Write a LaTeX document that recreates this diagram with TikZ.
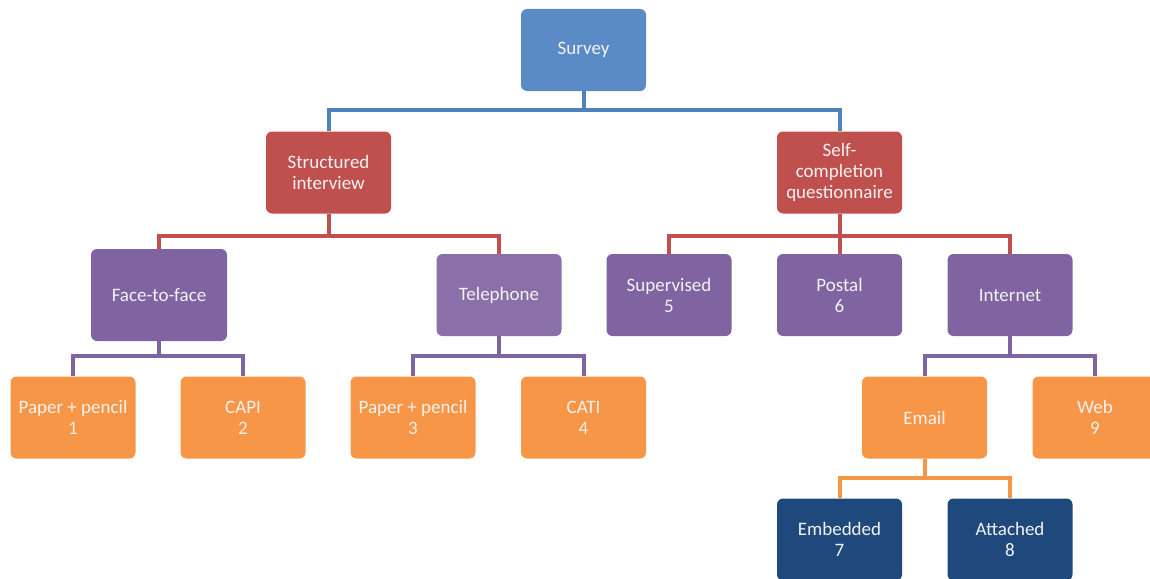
\documentclass[tikz,border=0pt]{standalone}
\usepackage{fontspec}
\setmainfont{Carlito}
\definecolor{surveyblue}{HTML}{5B8BC6}
\definecolor{linkblue}{HTML}{4F81BD}
\definecolor{boxred}{HTML}{C0504D}
\definecolor{boxpurple}{HTML}{8064A2}
\definecolor{lightpurple}{HTML}{8B6FA8}
\definecolor{boxorange}{HTML}{F79646}
\definecolor{boxnavy}{HTML}{1F497D}
\begin{document}
\begin{tikzpicture}[x=1pt, y=-1pt,
    chartbox/.style={rounded corners=6pt, minimum width=125pt, minimum height=82pt, inner sep=0pt,
        text=white!95!black, align=center, font=\fontsize{19}{21}\selectfont},
    link/.style={line width=4pt}]
    \useasboundingbox (0,0) rectangle (1150,578);
    \node[chartbox, fill=surveyblue] (survey) at (583.5, 50) {Survey};
    \node[chartbox, fill=boxred] (structured) at (328.5, 172.5) {Structured\\interview};
    \node[chartbox, fill=boxred] (selfcomp) at (839.5, 172.5) {Self-\\completion\\questionnaire};
    \node[chartbox, fill=boxpurple, minimum width=136pt, minimum height=92pt] (facetoface) at (159, 295) {Face-to-face};
    \node[chartbox, fill=lightpurple] (telephone) at (499, 295) {Telephone};
    \node[chartbox, fill=boxpurple] (supervised) at (669, 295) {Supervised\\5};
    \node[chartbox, fill=boxpurple] (postal) at (839.5, 295) {Postal\\6};
    \node[chartbox, fill=boxpurple] (internet) at (1010, 295) {Internet};
    \node[chartbox, fill=boxorange] (paper1) at (73, 417.5) {Paper + pencil\\1};
    \node[chartbox, fill=boxorange] (capi) at (243, 417.5) {CAPI\\2};
    \node[chartbox, fill=boxorange] (paper3) at (413, 417.5) {Paper + pencil\\3};
    \node[chartbox, fill=boxorange] (cati) at (583.5, 417.5) {CATI\\4};
    \node[chartbox, fill=boxorange] (email) at (924.5, 417.5) {Email};
    \node[chartbox, fill=boxorange] (web) at (1095, 417.5) {Web\\9};
    \node[chartbox, fill=boxnavy] (embedded) at (839.5, 539.5) {Embedded\\7};
    \node[chartbox, fill=boxnavy] (attached) at (1010, 539.5) {Attached\\8};
    % survey level
    \draw[link, linkblue] (survey.south) -- ++(0,19) -| (structured.north);
    \draw[link, linkblue] (survey.south) -- ++(0,19) -| (selfcomp.north);
    % interview and questionnaire
    \draw[link, boxred] (structured.south) -- ++(0,22) -| (facetoface.north);
    \draw[link, boxred] (structured.south) -- ++(0,22) -| (telephone.north);
    \draw[link, boxred] (selfcomp.south) -- ++(0,22) -| (supervised.north);
    \draw[link, boxred] (selfcomp.south) -- (postal.north);
    \draw[link, boxred] (selfcomp.south) -- ++(0,22) -| (internet.north);
    % modes
    \draw[link, boxpurple] (facetoface.south) -- ++(0,15) -| (paper1.north);
    \draw[link, boxpurple] (facetoface.south) -- ++(0,15) -| (capi.north);
    \draw[link, boxpurple] (telephone.south) -- ++(0,20) -| (paper3.north);
    \draw[link, boxpurple] (telephone.south) -- ++(0,20) -| (cati.north);
    \draw[link, boxpurple] (internet.south) -- ++(0,20) -| (email.north);
    \draw[link, boxpurple] (internet.south) -- ++(0,20) -| (web.north);
    % email
    \draw[link, boxorange] (email.south) -- ++(0,19) -| (embedded.north);
    \draw[link, boxorange] (email.south) -- ++(0,19) -| (attached.north);
\end{tikzpicture}
\end{document}
